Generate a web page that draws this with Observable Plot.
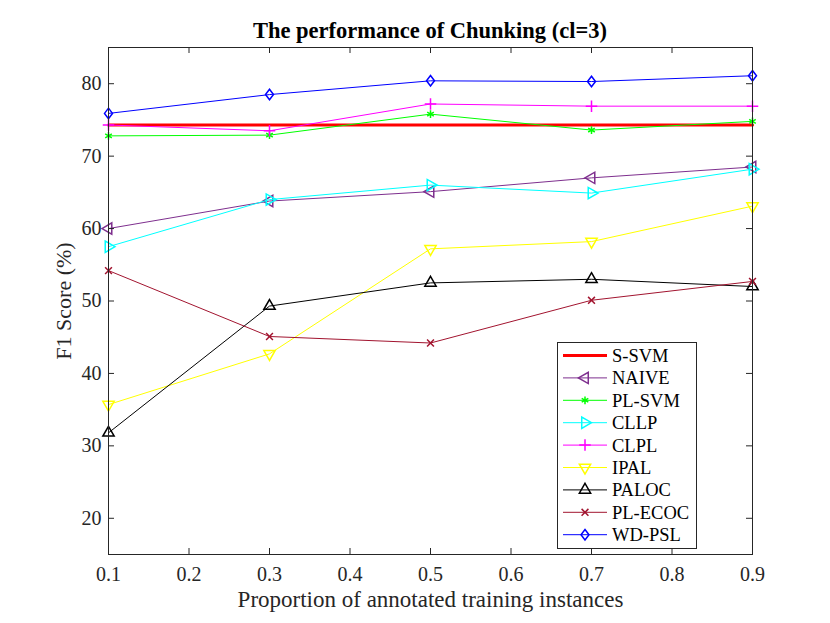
<!DOCTYPE html>
<html><head><meta charset="utf-8">
<script src="https://cdn.jsdelivr.net/npm/d3@7"></script>
<script src="https://cdn.jsdelivr.net/npm/@observablehq/plot@0.6"></script>
<style>
body{margin:0;background:#fff;}
#wrap{position:relative;width:830px;height:623px;font-family:"Liberation Serif","Times New Roman",serif;color:#262626;}
#title{height:40px;line-height:61px;text-align:center;font-weight:bold;font-size:22.5px;color:#000;padding-left:30px;box-sizing:border-box;white-space:nowrap;}
#legend{position:absolute;left:557px;top:342px;}
</style></head>
<body><div id="wrap"><div id="title">The performance of Chunking (cl=3)</div><div id="chart"></div><div id="legend"></div></div>
<script>
const xs = [0.1, 0.3, 0.5, 0.7, 0.9];
const xTicks = [0.1, 0.2, 0.3, 0.4, 0.5, 0.6, 0.7, 0.8, 0.9];
const yTicks = [20, 30, 40, 50, 60, 70, 80];
const names = ["S-SVM","NAIVE","PL-SVM","CLLP","CLPL","IPAL","PALOC","PL-ECOC","WD-PSL"];
const ssvm   = [74.3, 74.3, 74.3, 74.3, 74.3];
const naive  = [60.0, 63.8, 65.1, 67.0, 68.5];
const plsvm  = [72.8, 72.9, 75.8, 73.6, 74.8];
const cllp   = [57.5, 64.0, 66.0, 64.9, 68.2];
const clpl   = [74.3, 73.5, 77.2, 76.9, 76.9];
const ipal   = [35.7, 42.7, 57.2, 58.2, 63.1];
const paloc  = [31.8, 49.3, 52.5, 53.0, 52.0];
const plecoc = [54.2, 45.1, 44.2, 50.1, 52.7];
const wdpsl  = [75.9, 78.5, 80.4, 80.3, 81.1];

const diamond = {draw(ctx, size){const r=Math.sqrt(size/Math.PI);const h=r*1.25,w=r*0.95;ctx.moveTo(0,-h);ctx.lineTo(w,0);ctx.lineTo(0,h);ctx.lineTo(-w,0);ctx.closePath();}};
const series = [
  {name:names[0], v:ssvm, color:"#FF0000", sw:3.2, symbol:null},
  {name:names[1], v:naive, color:"#7E2F8E", sw:1, symbol:"triangle", rotate:-90, r:4.2},
  {name:names[2], v:plsvm, color:"#00FF00", sw:1, symbol:"asterisk", r:3.6},
  {name:names[3], v:cllp, color:"#00FFFF", sw:1, symbol:"triangle", rotate:90, r:4.2},
  {name:names[4], v:clpl, color:"#FF00FF", sw:1, symbol:"plus", r:3.8},
  {name:names[5], v:ipal, color:"#FFFF00", sw:1, symbol:"triangle", rotate:180, r:4.2},
  {name:names[6], v:paloc, color:"#000000", sw:1, symbol:"triangle", rotate:0, r:4.2},
  {name:names[7], v:plecoc, color:"#A2142F", sw:1, symbol:"times", r:3.2},
  {name:names[8], v:wdpsl, color:"#0000FF", sw:1, symbol:diamond, r:4.2}
];
const W = 830, H = 583, mL = 108, mR = 78, mT = 7, mB = 69;
const fw = W - mL - mR, fh = H - mT - mB, tk = 6;
const marks = [];
for (const s of series) {
  const data = xs.map((x,i)=>({x, y:s.v[i]}));
  marks.push(Plot.line(data, {x:"x", y:"y", stroke:s.color, strokeWidth:s.sw}));
  if (s.symbol) marks.push(Plot.dot(data, {x:"x", y:"y", stroke:s.color, symbol:()=>s.symbol, r:s.r, rotate:s.rotate||0, strokeWidth:1.5, fill:"none"}));
}
const chart = Plot.plot({
  width: W, height: H, marginLeft: mL, marginRight: mR, marginTop: mT, marginBottom: mB,
  x: {domain:[0.1,0.9]},
  y: {domain:[15,85]},
  symbol: {type:"identity"},
  style: {fontFamily:'"Liberation Serif","Times New Roman",serif', fontSize:"20px", color:"#262626", background:"white", overflow:"visible"},
  marks: [
    ...marks,
    Plot.frame({stroke:"#262626", strokeWidth:1}),
    Plot.tickX(xTicks, {x:d=>d, insetTop: fh - tk, stroke:"#262626"}),
    Plot.tickX(xTicks, {x:d=>d, insetBottom: fh - tk, stroke:"#262626"}),
    Plot.tickY(yTicks, {y:d=>d, insetRight: fw - tk, stroke:"#262626"}),
    Plot.tickY(yTicks, {y:d=>d, insetLeft: fw - tk, stroke:"#262626"}),
    Plot.axisX(xTicks, {tickSize:0, tickPadding:12, tickFormat:d=>d.toFixed(1), label:null, fill:"#262626", fontSize:20}),
    Plot.axisY(yTicks, {tickSize:0, tickPadding:7, tickFormat:d=>String(d), label:null, fill:"#262626", fontSize:20}),
    Plot.text(["Proportion of annotated training instances"], {frameAnchor:"bottom", dy:52, fontSize:23, fill:"#262626"}),
    Plot.text(["F1 Score (%)"], {frameAnchor:"left", textAnchor:"middle", rotate:-90, dx:-45, fontSize:22, fill:"#262626"})
  ]
});
document.getElementById("chart").appendChild(chart);

// legend
const rowH = 22.4, lw = 139, lh = 206;
const lg = d3.select("#legend").append("svg").attr("width", lw+1).attr("height", lh+1);
lg.append("rect").attr("x",0.5).attr("y",0.5).attr("width",lw).attr("height",lh).attr("fill","#fff").attr("stroke","#262626");
series.forEach((s,i)=>{
  const cy = 13.5 + i*rowH;
  const g = lg.append("g");
  g.append("line").attr("x1",6).attr("x2",50).attr("y1",cy).attr("y2",cy).attr("stroke",s.color).attr("stroke-width",s.sw);
  if (s.symbol) {
    const typ = typeof s.symbol === "string" ? {triangle:d3.symbolTriangle, asterisk:d3.symbolAsterisk, plus:d3.symbolPlus, times:d3.symbolTimes}[s.symbol] : s.symbol;
    g.append("path").attr("d", d3.symbol(typ, Math.PI*s.r*s.r)()).attr("transform",`translate(28,${cy}) rotate(${s.rotate||0})`).attr("fill","none").attr("stroke",s.color).attr("stroke-width",1.5);
  }
  g.append("text").attr("x",55).attr("y",cy).attr("dy","0.35em").attr("font-size","18.5px").attr("fill","#000").text(s.name);
});
</script></body></html>
